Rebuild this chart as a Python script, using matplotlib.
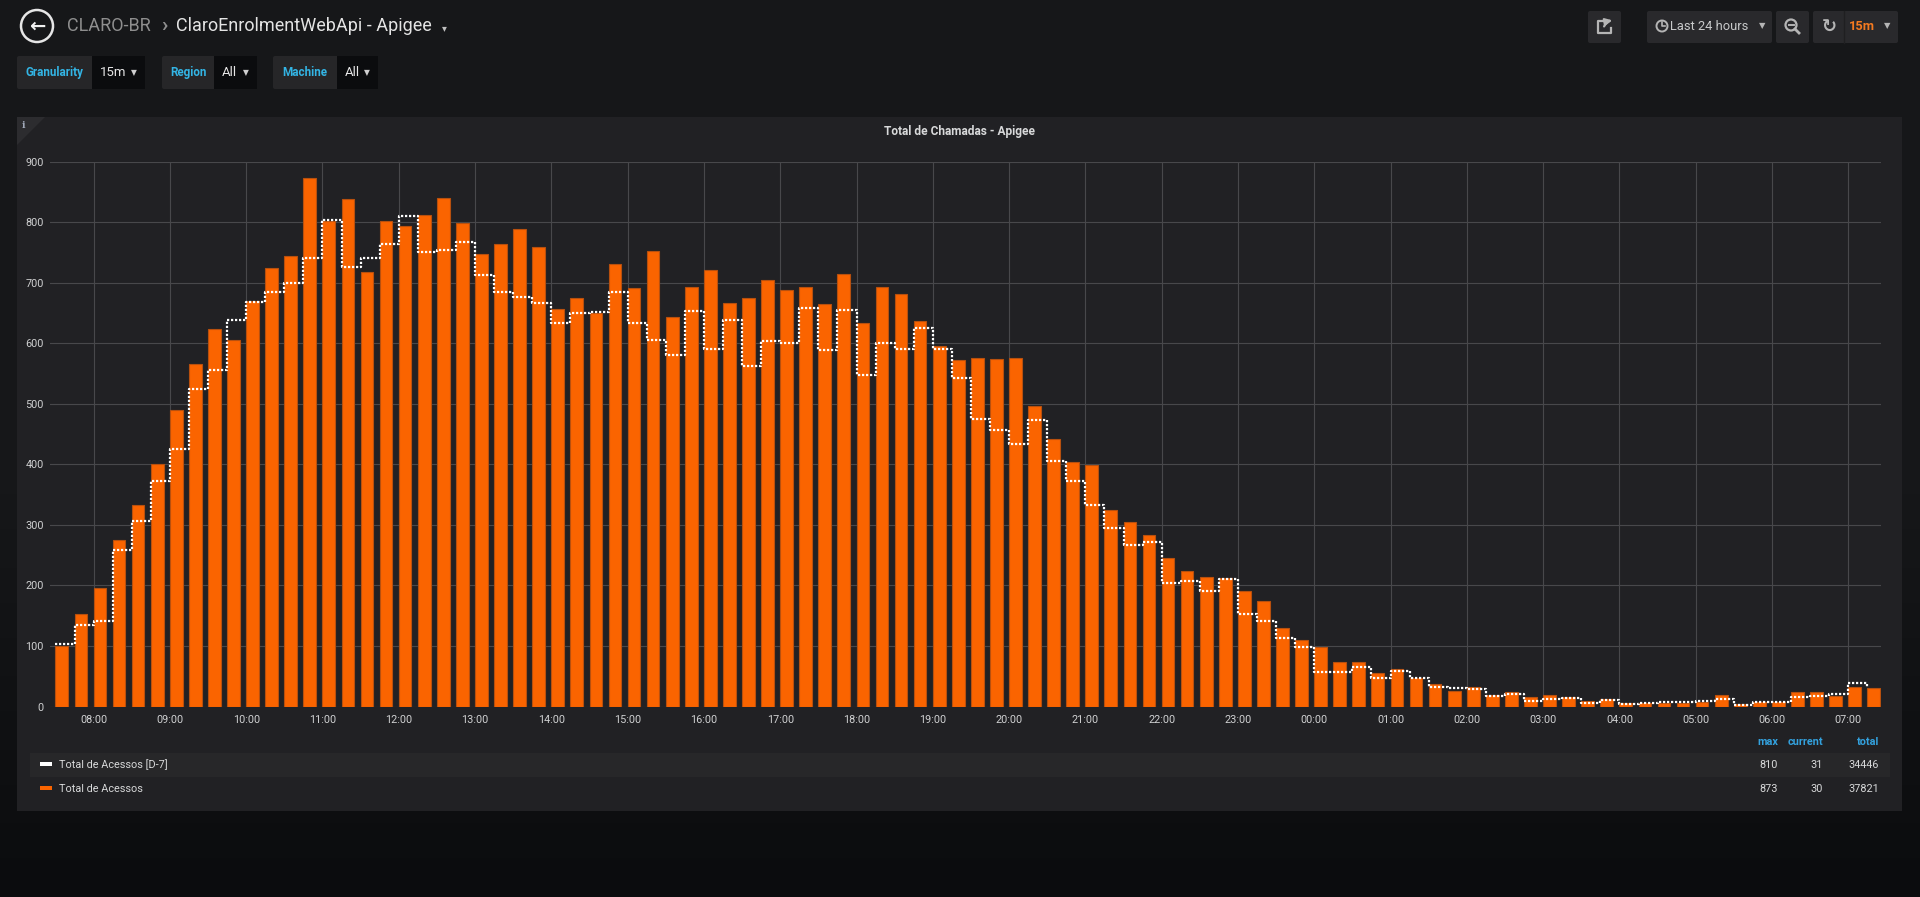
import matplotlib
matplotlib.use("Agg")
import matplotlib.pyplot as plt
import matplotlib.dates as mdates
from matplotlib.patches import Rectangle, FancyBboxPatch, Circle, Polygon
import numpy as np
import pandas as pd

plt.rcParams['font.family'] = ['Roboto', 'DejaVu Sans']

# 15 min buckets, 07:30 -> 07:15 next day
start = "2019-06-10 07:30"
acessos = [100, 152, 195, 275, 333, 401, 490, 566, 623, 606,
           669, 724, 744, 873, 802, 838, 717, 802, 793, 812,
           839, 798, 747, 763, 789, 759, 657, 675, 650, 731,
           691, 752, 644, 693, 721, 667, 675, 705, 688, 693,
           664, 715, 634, 693, 682, 637, 595, 573, 576, 574,
           576, 496, 442, 403, 398, 325, 305, 284, 246, 223,
           214, 212, 190, 174, 129, 110, 98, 74, 74, 56,
           62, 47, 37, 26, 32, 19, 24, 16, 19, 15,
           9, 12, 6, 6, 6, 5, 7, 19, 4, 7,
           8, 24, 24, 18, 32, 30]
acessos_d7 = [104, 135, 142, 258, 306, 373, 425, 525, 555, 639,
              668, 684, 700, 740, 803, 725, 741, 764, 810, 750,
              754, 767, 713, 685, 677, 667, 633, 649, 652, 684,
              634, 606, 581, 653, 590, 639, 562, 603, 600, 658,
              588, 655, 548, 600, 590, 625, 590, 543, 474, 457,
              434, 473, 405, 373, 332, 294, 267, 272, 204, 207,
              191, 210, 152, 142, 113, 98, 57, 57, 65, 47,
              58, 47, 33, 31, 29, 17, 21, 9, 13, 14,
              6, 10, 4, 6, 8, 7, 9, 12, 2, 8,
              7, 15, 17, 20, 38, 31]
series_names = ["Total de Acessos [D-7]", "Total de Acessos"]
stat_headers = ["max", "current", "total"]
stats_d7 = ["810", "31", "34446"]
stats_now = ["873", "30", "37821"]

ORANGE = "#FA6400"
CYAN = "#33b5e5"
TXT = "#d8d9da"
PANEL = "#212124"

W, H = 1920, 897
fig = plt.figure(figsize=(W / 100, H / 100), dpi=100)

# background axes in pixel coordinates
bg = fig.add_axes([0, 0, 1, 1])
bg.set_xlim(0, W)
bg.set_ylim(H, 0)
bg.axis("off")
grad = np.linspace(0, 1, 256).reshape(-1, 1)
top_c = np.array([0x16, 0x17, 0x19]) / 255
bot_c = np.array([0x0b, 0x0c, 0x0e]) / 255
img = top_c + (bot_c - top_c) * np.clip((grad - 0.55) / 0.45, 0, 1)[..., None]
bg.imshow(img.reshape(256, 1, 3), extent=[0, W, H, 0], aspect="auto", zorder=0)

# header
bg.add_patch(Circle((37, 26), 16, fill=False, ec="#e6e6e6", lw=1.8))
bg.text(37, 26.5, "\u2190", color="#f0f0f0", fontsize=14, fontweight="bold",
        ha="center", va="center", family="DejaVu Sans")
bg.text(67, 26, "CLARO-BR", color="#8e8e8e", fontsize=13, va="center")
bg.text(161, 26, "\u203a", color="#8e8e8e", fontsize=15, fontweight="bold", va="center")
bg.text(176, 26, "ClaroEnrolmentWebApi - Apigee", color="#e4e4e4", fontsize=13, va="center")
bg.text(442, 28, "\u25be", color="#c0c0c0", fontsize=7, va="center", family="DejaVu Sans")

def button(x0, x1, y0=11, y1=43, color="#29292c"):
    bg.add_patch(FancyBboxPatch((x0, y0), x1 - x0, y1 - y0,
                                boxstyle="round,pad=0,rounding_size=2",
                                fc=color, ec="none", zorder=2))

button(1588, 1621)
button(1647, 1772)
button(1776, 1809)
button(1813, 1898)
bg.plot([1844, 1844], [11, 43], color="#1f1f21", lw=1, zorder=3)
# share icon
bg.plot([1609, 1598, 1598, 1611, 1611], [21, 21, 33, 33, 28], color="#b5b5b5", lw=1.6, zorder=3)
bg.annotate("", xy=(1615, 20), xytext=(1603, 29),
            arrowprops=dict(arrowstyle="-|>", color="#b5b5b5", lw=1.6,
                            connectionstyle="arc3,rad=-0.35"), zorder=3)
# clock
bg.add_patch(Circle((1662, 26), 5.5, fill=False, ec="#b5b5b5", lw=1.4, zorder=3))
bg.plot([1662, 1662, 1665], [22.5, 26, 26], color="#b5b5b5", lw=1.2, zorder=3)
bg.text(1670, 26, "Last 24 hours", color="#c8c9ca", fontsize=9.3, va="center", zorder=3)
bg.text(1762, 26, "\u25bc", color="#b5b5b5", fontsize=6, ha="center", va="center",
        family="DejaVu Sans", zorder=3)
# zoom out
bg.add_patch(Circle((1791, 25), 5.5, fill=False, ec="#b5b5b5", lw=1.6, zorder=3))
bg.plot([1795, 1799], [29, 33], color="#b5b5b5", lw=2, zorder=3)
bg.plot([1788.5, 1793.5], [25, 25], color="#b5b5b5", lw=1.4, zorder=3)
# refresh
bg.text(1829, 26.5, "\u21bb", color="#b5b5b5", fontsize=13, fontweight="bold",
        ha="center", va="center", family="DejaVu Sans", zorder=3)
bg.text(1849, 26, "15m", color="#f47a20", fontsize=9.3, fontweight="bold", va="center", zorder=3)
bg.text(1887, 26, "\u25bc", color="#b5b5b5", fontsize=6, ha="center", va="center",
        family="DejaVu Sans", zorder=3)

# template variables
variables = [("Granularity", "15m", 17, 92, 145),
             ("Region", "All", 162, 214, 257),
             ("Machine", "All", 273, 337, 378)]
for label, value, x0, x1, x2 in variables:
    bg.add_patch(FancyBboxPatch((x0, 56), x2 - x0, 33, boxstyle="round,pad=0,rounding_size=2",
                                fc="#262628", ec="none", zorder=2))
    bg.add_patch(Rectangle((x1, 56), x2 - x1, 33, fc="#0b0c0e", ec="none", zorder=3))
    bg.text((x0 + x1) / 2, 72.5, label, color=CYAN, fontsize=8.4, fontweight="bold",
            ha="center", va="center", zorder=4)
    bg.text(x1 + 8, 72.5, value, color="#e6e6e6", fontsize=9.5, va="center", zorder=4)
    bg.text(x2 - 11, 72.5, "\u25bc", color="#d0d0d0", fontsize=5.5, ha="center", va="center",
            family="DejaVu Sans", zorder=4)

# panel
bg.add_patch(Rectangle((17, 117), 1885, 694, fc=PANEL, ec="none", zorder=1))
bg.add_patch(Polygon([(17, 117), (45, 117), (17, 145)], fc="#2c2c2f", ec="none", zorder=2))
bg.text(24, 125, "i", color="#a0a8b8", fontsize=7, fontweight="bold", ha="center",
        va="center", zorder=3, family="DejaVu Serif")
bg.text(960, 131, "Total de Chamadas - Apigee", color=TXT, fontsize=8.6,
        fontweight="bold", ha="center", va="center", zorder=3)

# legend
bg.add_patch(Rectangle((30, 753), 1860, 24, fc="#272729", ec="none", zorder=2))
for (name, color, y, vals) in [(series_names[0], "white", 764.5, stats_d7),
                               (series_names[1], ORANGE, 788.5, stats_now)]:
    bg.add_patch(Rectangle((40, y - 2), 12, 4, fc=color, ec="none", zorder=3))
    bg.text(59, y, name, color=TXT, fontsize=7.8, va="center", zorder=3)
    for xr, v in zip([1778, 1823, 1879], vals):
        bg.text(xr, y, v, color=TXT, fontsize=7.8, ha="right", va="center", zorder=3)
for xr, h in zip([1778, 1823, 1879], stat_headers):
    bg.text(xr, 742, h, color="#33a1de", fontsize=7.8, fontweight="bold",
            ha="right", va="center", zorder=3)

# main chart
times = pd.date_range(start, periods=len(acessos), freq="15min")
x0 = pd.Timestamp(start) - pd.Timedelta(minutes=4.3)
x1 = x0 + pd.Timedelta(hours=24)

ax = fig.add_axes([50 / W, 1 - 706.5 / H, 1831 / W, 545 / H])
ax.set_facecolor("none")
ax.bar(times, acessos, width=10 / 1440, align="edge", color=ORANGE,
       edgecolor="#b8500e", linewidth=0.8, zorder=2)
ax.step(times, acessos_d7, where="post", color="white", lw=1.6,
        linestyle=(0, (1, 0.8)), zorder=3)
ax.set_xlim(x0, x1)
ax.set_ylim(0, 900)
ax.set_yticks(range(0, 901, 100))
ax.xaxis.set_major_locator(mdates.HourLocator())
ax.xaxis.set_major_formatter(mdates.DateFormatter("%H:%M"))
ax.grid(True, color="#48484b", lw=0.8, zorder=0)
for s in ax.spines.values():
    s.set_visible(False)
ax.tick_params(length=0, colors="#cfd0d1", labelsize=7.8)
ax.tick_params(axis="y", pad=4.5)
ax.tick_params(axis="x", pad=6)

fig.savefig("out.png", dpi=100, facecolor="#161719")
